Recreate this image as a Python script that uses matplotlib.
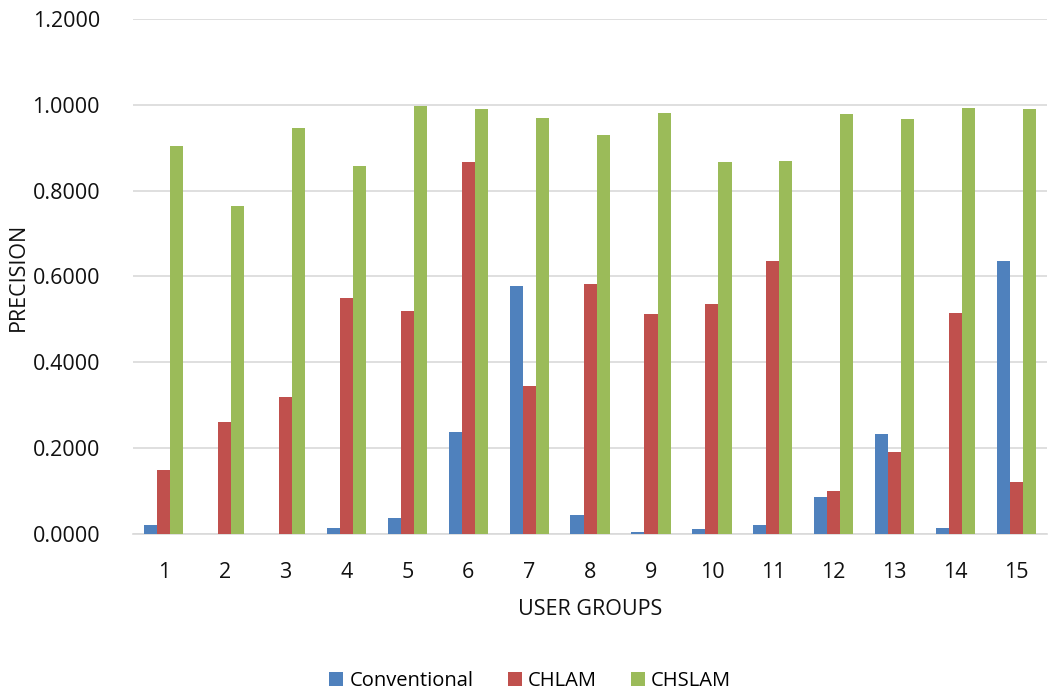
import numpy as np
import matplotlib.pyplot as plt

## Data
groups = [str(i) for i in range(1, 16)]
conventional = [0.022, 0.0, 0.0, 0.015, 0.037, 0.238, 0.577, 0.045, 0.005,
                0.012, 0.022, 0.085, 0.232, 0.015, 0.637]
chlam = [0.150, 0.260, 0.318, 0.550, 0.520, 0.866, 0.345, 0.583, 0.512,
         0.537, 0.637, 0.100, 0.190, 0.515, 0.122]
chslam = [0.903, 0.765, 0.947, 0.857, 0.997, 0.990, 0.969, 0.929, 0.981,
          0.866, 0.868, 0.978, 0.967, 0.992, 0.990]
yticks = [0.0, 0.2, 0.4, 0.6, 0.8, 1.0, 1.2]

plt.rcParams['font.family'] = ['Open Sans', 'DejaVu Sans']

fig = plt.figure(figsize=(10.5, 6.95), dpi=100)
ax = fig.add_axes([0.127, 0.2317, 0.870, 0.741])

x = np.arange(len(groups))
w = 0.215
ax.bar(x - w, conventional, w, color='#4F81BD', label='Conventional', zorder=3)
ax.bar(x,     chlam,        w, color='#C0504D', label='CHLAM', zorder=3)
ax.bar(x + w, chslam,       w, color='#9BBB59', label='CHSLAM', zorder=3)

ax.set_xlim(-0.5, len(groups) - 0.5)
ax.set_ylim(0, 1.2)
ax.set_yticks(yticks)
ax.set_yticklabels(['%.4f' % v for v in yticks])
ax.set_xticks(x)
ax.set_xticklabels(groups)
ax.tick_params(length=0, labelsize=15.5, colors='#111111')
ax.tick_params(axis='x', pad=20)
ax.tick_params(axis='y', pad=24)

ax.yaxis.grid(True, color='#D9D9D9', linewidth=1.2, zorder=0)
for s in ['top', 'right', 'left']:
    ax.spines[s].set_visible(False)
ax.spines['bottom'].set_color('#D9D9D9')
ax.spines['bottom'].set_linewidth(1.2)

ax.set_xlabel('USER GROUPS', fontsize=15.5, labelpad=12, color='#111111')
ax.set_ylabel('PRECISION', fontsize=15.5, color='#111111')
ax.yaxis.set_label_coords(-0.114, 0.5)

fig.legend(loc='lower center', bbox_to_anchor=(0.505, -0.02), ncol=3,
           frameon=False, fontsize=14.5, handlelength=0.7, handleheight=0.7,
           handletextpad=0.3, columnspacing=1.7)

fig.savefig('out.png', dpi=100)
